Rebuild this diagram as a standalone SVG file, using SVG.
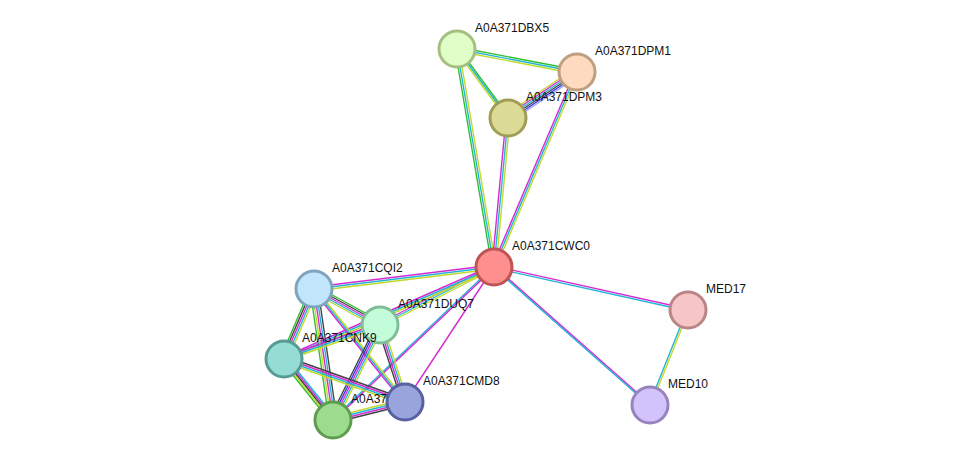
<svg xmlns="http://www.w3.org/2000/svg" width="976" height="466" viewBox="0 0 976 466">
<style>
line{stroke-width:1.4;fill:none}
.g{stroke:#2fbf2f}.y{stroke:#c3d92a}.c{stroke:#22b4d6}.m{stroke:#d42ad4}.k{stroke:#444}.b{stroke:#3434f0}.l{stroke:#9a9aff}
circle{stroke-width:3}
text{font-family:"Liberation Sans",Arial,sans-serif;font-size:12px;fill:#111}
</style>
<rect width="976" height="466" fill="#fff"/>
<g id="edges">
<line class="g" x1="457" y1="47" x2="577" y2="70"/><line class="c" x1="457" y1="49" x2="577" y2="72"/><line class="y" x1="457" y1="51" x2="577" y2="74"/>
<line class="g" x1="459" y1="49" x2="510" y2="118"/><line class="c" x1="457" y1="49" x2="508" y2="118"/><line class="y" x1="455" y1="49" x2="506" y2="118"/>
<line class="g" x1="455" y1="49" x2="492" y2="267"/><line class="c" x1="457" y1="49" x2="494" y2="267"/><line class="y" x1="459" y1="49" x2="496" y2="267"/>
<line class="y" x1="577" y1="67" x2="508" y2="113"/><line class="m" x1="577" y1="69" x2="508" y2="115"/><line class="c" x1="577" y1="71" x2="508" y2="117"/><line class="k" x1="577" y1="73" x2="508" y2="119"/><line class="b" x1="577" y1="75" x2="508" y2="121"/><line class="l" x1="577" y1="77" x2="508" y2="123"/>
<line class="m" x1="575" y1="72" x2="492" y2="267"/><line class="c" x1="577" y1="72" x2="494" y2="267"/><line class="y" x1="579" y1="72" x2="496" y2="267"/>
<line class="m" x1="506" y1="118" x2="492" y2="267"/><line class="c" x1="508" y1="118" x2="494" y2="267"/><line class="y" x1="510" y1="118" x2="496" y2="267"/>
<line class="m" x1="494" y1="266" x2="688" y2="309"/><line class="c" x1="494" y1="268" x2="688" y2="311"/>
<line class="m" x1="495" y1="267" x2="651" y2="405"/><line class="c" x1="493" y1="267" x2="649" y2="405"/>
<line class="c" x1="687" y1="310" x2="649" y2="405"/><line class="y" x1="689" y1="310" x2="651" y2="405"/>
<line class="m" x1="494" y1="265" x2="314" y2="287"/><line class="c" x1="494" y1="267" x2="314" y2="289"/><line class="y" x1="494" y1="269" x2="314" y2="291"/>
<line class="m" x1="494" y1="265" x2="380" y2="323"/><line class="c" x1="494" y1="267" x2="380" y2="325"/><line class="y" x1="494" y1="269" x2="380" y2="327"/>
<line class="m" x1="494" y1="265" x2="284" y2="357"/><line class="c" x1="494" y1="267" x2="284" y2="359"/><line class="y" x1="494" y1="269" x2="284" y2="361"/>
<line class="c" x1="493" y1="267" x2="332" y2="420"/><line class="m" x1="495" y1="267" x2="334" y2="420"/>
<line class="m" x1="494" y1="267" x2="405" y2="402"/>
<line class="g" x1="314" y1="285" x2="380" y2="321"/><line class="k" x1="314" y1="287" x2="380" y2="323"/><line class="m" x1="314" y1="289" x2="380" y2="325"/><line class="c" x1="314" y1="291" x2="380" y2="327"/><line class="y" x1="314" y1="293" x2="380" y2="329"/>
<line class="g" x1="310" y1="289" x2="280" y2="359"/><line class="k" x1="312" y1="289" x2="282" y2="359"/><line class="m" x1="314" y1="289" x2="284" y2="359"/><line class="c" x1="316" y1="289" x2="286" y2="359"/><line class="y" x1="318" y1="289" x2="288" y2="359"/>
<line class="g" x1="310" y1="289" x2="329" y2="420"/><line class="y" x1="312" y1="289" x2="331" y2="420"/><line class="m" x1="314" y1="289" x2="333" y2="420"/><line class="c" x1="316" y1="289" x2="335" y2="420"/><line class="k" x1="318" y1="289" x2="337" y2="420"/>
<line class="m" x1="312" y1="289" x2="403" y2="402"/><line class="c" x1="314" y1="289" x2="405" y2="402"/><line class="y" x1="316" y1="289" x2="407" y2="402"/>
<line class="m" x1="380" y1="323" x2="284" y2="357"/><line class="c" x1="380" y1="325" x2="284" y2="359"/><line class="y" x1="380" y1="327" x2="284" y2="361"/>
<line class="k" x1="376" y1="325" x2="329" y2="420"/><line class="b" x1="378" y1="325" x2="331" y2="420"/><line class="m" x1="380" y1="325" x2="333" y2="420"/><line class="c" x1="382" y1="325" x2="335" y2="420"/><line class="y" x1="384" y1="325" x2="337" y2="420"/>
<line class="k" x1="377" y1="325" x2="402" y2="402"/><line class="m" x1="379" y1="325" x2="404" y2="402"/><line class="c" x1="381" y1="325" x2="406" y2="402"/><line class="y" x1="383" y1="325" x2="408" y2="402"/>
<line class="g" x1="280" y1="359" x2="329" y2="420"/><line class="y" x1="282" y1="359" x2="331" y2="420"/><line class="k" x1="284" y1="359" x2="333" y2="420"/><line class="m" x1="286" y1="359" x2="335" y2="420"/><line class="c" x1="288" y1="359" x2="337" y2="420"/>
<line class="k" x1="284" y1="356" x2="405" y2="399"/><line class="m" x1="284" y1="358" x2="405" y2="401"/><line class="c" x1="284" y1="360" x2="405" y2="403"/><line class="y" x1="284" y1="362" x2="405" y2="405"/>
<line class="y" x1="333" y1="417" x2="405" y2="399"/><line class="c" x1="333" y1="419" x2="405" y2="401"/><line class="m" x1="333" y1="421" x2="405" y2="403"/><line class="k" x1="333" y1="423" x2="405" y2="405"/>
</g>
<g id="DBX5"><circle cx="457" cy="49" r="18" fill="#e0ffc8" stroke="#a5bf80"/><text x="475" y="32">A0A371DBX5</text></g>
<g id="DPM1"><circle cx="577" cy="72" r="18" fill="#fedbbf" stroke="#bf9f80"/><text x="595" y="55">A0A371DPM1</text></g>
<g id="DPM3"><circle cx="508" cy="118" r="18" fill="#dcdb96" stroke="#a09d56"/><text x="526" y="101">A0A371DPM3</text></g>
<g id="CWC0"><circle cx="494" cy="267" r="18" fill="#fe8f8f" stroke="#bf5454"/><text x="512" y="250">A0A371CWC0</text></g>
<g id="MED17"><circle cx="688" cy="310" r="18" fill="#f6c6c6" stroke="#bb8585"/><text x="706" y="293">MED17</text></g>
<g id="MED10"><circle cx="650" cy="405" r="18" fill="#d3c3fd" stroke="#9883bd"/><text x="668" y="388">MED10</text></g>
<g id="CQI2"><circle cx="314" cy="289" r="18" fill="#c1e6fc" stroke="#7fa4bd"/><text x="332" y="272">A0A371CQI2</text></g>
<g id="DUQ7"><circle cx="380" cy="325" r="18" fill="#c3fcd9" stroke="#80bd99"/><text x="398" y="308">A0A371DUQ7</text></g>
<g id="CNK9"><circle cx="284" cy="359" r="18" fill="#95ddd4" stroke="#579b93"/><text x="302" y="342">A0A371CNK9</text></g>
<g id="A0A37"><circle cx="333" cy="420" r="18" fill="#9ddc8e" stroke="#5e9d50"/><text x="351" y="403">A0A37</text></g>
<g id="CMD8"><circle cx="405" cy="402" r="18" fill="#99a4dd" stroke="#5760a0"/><text x="423" y="385">A0A371CMD8</text></g>
</svg>
